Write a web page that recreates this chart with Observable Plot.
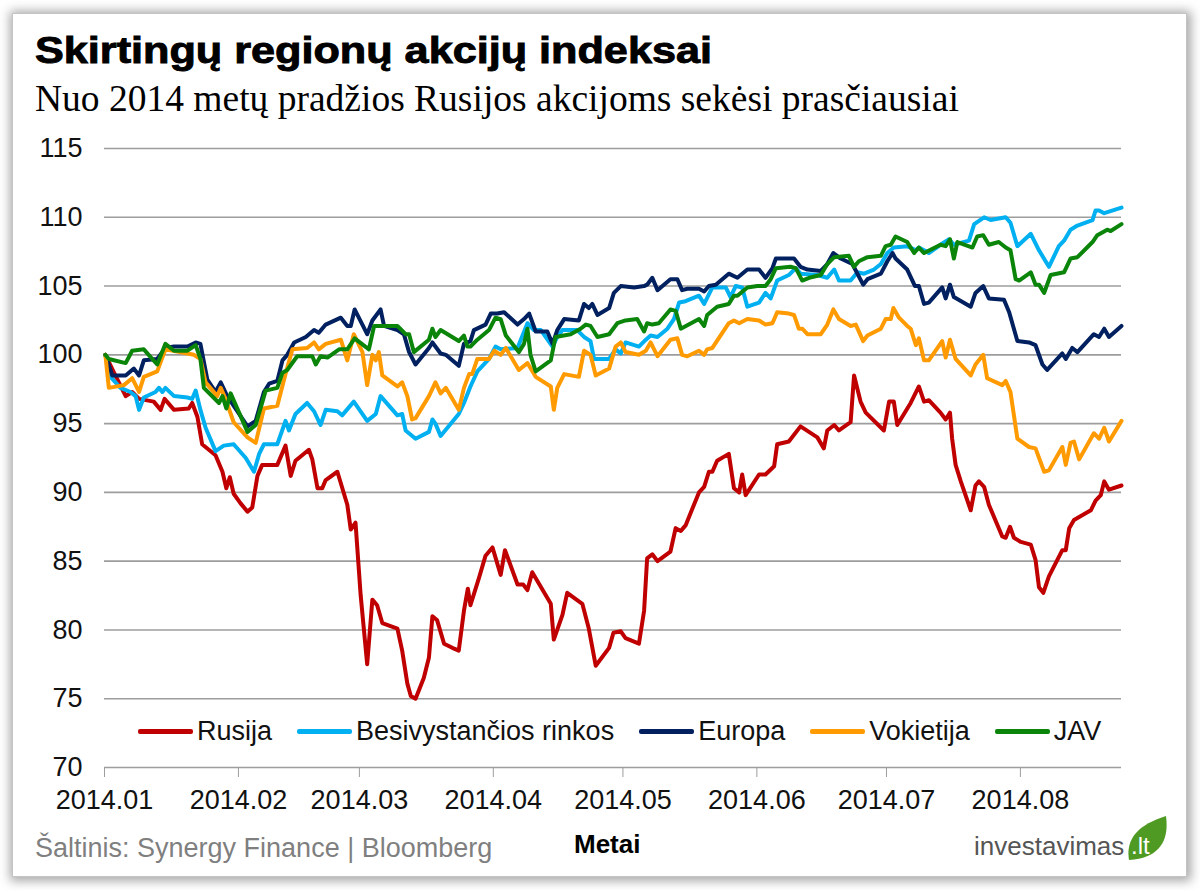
<!DOCTYPE html>
<html><head><meta charset="utf-8">
<script src="https://cdn.jsdelivr.net/npm/d3@7"></script>
<script src="https://cdn.jsdelivr.net/npm/@observablehq/plot@0.6"></script>
<style>
html,body{margin:0;padding:0;background:#fff;}
body{width:1200px;height:890px;position:relative;overflow:hidden;font-family:"Liberation Sans",Arial,sans-serif;}
#frame{position:absolute;left:12px;top:13px;width:1173px;height:862px;border:1px solid #c4c4c4;box-shadow:1px 1px 10px 3px rgba(0,0,0,0.35);background:#fff;}
.abs{position:absolute;white-space:nowrap;line-height:1;}
#title{left:35px;top:33px;font-weight:bold;font-size:36px;color:#000;-webkit-text-stroke:0.9px #000;transform:scaleX(1.2);transform-origin:0 0;}
#subtitle{left:35px;top:80px;font-family:"Liberation Serif","Times New Roman",serif;font-size:37.5px;color:#000;}
#chart{position:absolute;left:0;top:130px;}
#legend{position:absolute;left:138px;top:716px;height:30px;display:flex;align-items:center;font-size:27px;color:#111;}
.li{display:flex;align-items:center;margin-right:25px;}
.sw{width:55px;height:5px;margin-right:4px;border-radius:2px;}
#source{left:35px;top:835px;font-size:27px;color:#7f7f7f;}
#xlabel{left:574px;top:831px;font-size:26px;font-weight:bold;color:#000;}
#logo{left:974px;top:833px;font-size:26px;color:#555;}
#leaf{position:absolute;left:1126px;top:814px;width:42px;height:48px;}
#leaftext{position:absolute;left:1131px;top:834px;font-size:24px;color:#fff;line-height:1;}
</style></head>
<body>
<div id="frame"></div>
<div id="title" class="abs">Skirtingų regionų akcijų indeksai</div>
<div id="subtitle" class="abs">Nuo 2014 metų pradžios Rusijos akcijoms sekėsi prasčiausiai</div>
<div id="chart"></div>
<div id="legend"></div>
<div id="source" class="abs">Šaltinis: Synergy Finance | Bloomberg</div>
<div id="xlabel" class="abs">Metai</div>
<div id="logo" class="abs">investavimas</div>
<svg id="leaf" viewBox="0 0 42 48"><path d="M3,46 C0,28 8,12 40,2 C43,24 36,44 3,46 Z" fill="#4e9a22"/></svg>
<div id="leaftext">.lt</div>
<script>
// day offset from 2014-01-01, index value
const rusija = [[0.2,100],[2.2,98.7],[4.9,97.0],[6.4,97.3],[8.0,96.8],[11.4,96.6],[13.0,96.0],[13.9,96.8],[16.1,96.0],[19.5,96.1],[20.3,96.5],[21.5,95.5],[22.6,93.5],[25.7,92.7],[27.3,91.5],[28.2,90.3],[29.0,91.1],[29.9,89.9],[31.5,89.2],[33.1,88.6],[34.2,88.9],[35.4,91.2],[36.5,92.0],[40.0,92.0],[41.9,93.4],[43.1,91.2],[44.2,92.3],[47.3,93.1],[48.1,92.4],[49.3,90.3],[50.4,90.3],[51.2,90.9],[53.9,91.5],[56.2,89.1],[57.0,87.3],[58.1,87.8],[59.3,82.5],[60.8,77.5],[62.0,82.2],[63.1,81.8],[64.3,80.5],[67.8,80.1],[68.9,78.5],[70.1,76.1],[70.9,75.2],[72.0,75.0],[73.9,76.5],[75.1,78.0],[75.9,81.0],[77.0,80.7],[78.6,79.0],[80.5,78.7],[82.0,78.5],[83.2,81.4],[84.1,83.0],[84.7,81.8],[86.7,83.8],[88.2,85.4],[89.8,86.0],[91.7,84.0],[92.7,85.8],[95.6,83.3],[96.9,83.3],[97.9,82.9],[99.0,84.2],[103.3,81.9],[104.0,79.3],[106.0,81.1],[107.1,82.7],[110.6,81.9],[112.1,80.1],[113.7,77.4],[116.8,78.7],[117.8,79.8],[119.5,79.9],[120.6,79.4],[123.7,79.0],[124.9,81.4],[125.6,85.2],[126.8,85.5],[128.0,85.0],[131.0,85.7],[132.2,87.4],[133.4,87.2],[134.5,87.6],[137.6,90.0],[138.8,90.4],[139.9,91.5],[140.7,91.5],[141.8,92.3],[144.5,92.8],[145.7,90.3],[146.9,90.0],[147.6,91.3],[148.4,89.8],[151.5,91.3],[153.0,91.3],[155.0,91.9],[155.7,93.5],[158.4,93.7],[161.1,94.8],[165.0,94.0],[166.5,93.2],[167.3,94.5],[168.9,94.9],[170.0,94.5],[172.7,95.1],[173.5,98.5],[175.0,96.6],[176.2,95.8],[180.4,94.5],[181.6,96.6],[182.7,96.6],[183.5,94.9],[186.6,96.5],[188.5,97.7],[189.7,96.6],[190.8,96.7],[193.5,95.8],[194.7,95.3],[195.7,95.8],[196.2,93.9],[197.0,92.0],[198.2,90.8],[200.5,88.7],[201.6,90.5],[202.4,90.8],[203.6,90.4],[204.7,89.1],[207.8,86.8],[208.6,86.7],[209.6,87.5],[210.5,86.7],[212.1,86.4],[214.4,86.2],[215.5,85.1],[216.3,83.1],[217.3,82.7],[218.6,83.9],[221.7,85.8],[222.5,85.8],[223.3,87.4],[224.4,88.0],[228.3,88.7],[229.4,89.4],[230.6,89.8],[231.4,90.8],[232.5,90.2],[235.4,90.5]];
const besivystancios = [[0.2,100],[1.4,98.4],[3.7,97.6],[6.0,97.3],[7.2,97.0],[8.0,96.0],[9.1,96.9],[11.8,97.3],[12.6,97.6],[13.4,97.3],[14.1,97.6],[16.1,97.0],[19.2,96.9],[20.3,96.8],[21.1,97.4],[22.2,96.0],[23.4,94.7],[25.7,93.0],[27.6,93.4],[29.9,93.5],[32.7,92.5],[34.6,91.5],[35.8,92.8],[36.9,93.5],[40.0,93.5],[41.9,95.2],[42.7,94.5],[44.2,95.7],[46.9,96.5],[48.5,95.9],[50.0,94.9],[51.2,96.0],[53.9,95.9],[55.0,95.6],[57.7,96.6],[60.8,95.2],[62.8,95.7],[63.9,97.0],[67.8,95.6],[68.9,95.7],[69.7,94.5],[72.0,93.9],[75.1,94.4],[75.9,95.3],[76.6,95.0],[77.8,94.1],[82.0,95.7],[83.2,96.5],[84.7,97.7],[86.3,98.8],[89.0,99.7],[90.5,100.6],[91.7,100.4],[95.6,100.5],[97.9,102.3],[99.4,101.8],[101.0,101.8],[103.7,100.6],[104.8,101.3],[106.0,101.8],[109.4,101.8],[111.0,101.3],[112.5,101.0],[113.3,99.7],[116.8,99.7],[118.3,100.4],[119.5,100.1],[120.6,100.9],[123.7,100.6],[125.3,101.1],[126.4,101.4],[128.0,101.3],[130.3,101.9],[131.8,102.6],[133.0,103.8],[134.5,103.9],[137.6,104.3],[138.8,103.7],[140.7,104.9],[143.8,104.9],[144.9,104.2],[146.1,105.0],[147.6,104.9],[148.8,103.5],[151.5,103.8],[153.0,104.5],[154.2,104.1],[155.7,105.4],[158.4,105.8],[160.0,106.3],[161.1,105.9],[165.0,105.8],[167.3,105.6],[168.9,106.2],[170.0,105.4],[172.7,105.4],[174.3,106.0],[175.8,105.9],[178.1,106.2],[179.7,106.6],[181.2,107.4],[182.7,107.8],[185.8,107.9],[187.8,107.6],[188.5,107.8],[189.7,107.6],[190.8,107.4],[193.5,108.0],[195.5,108.4],[196.6,108.0],[200.1,108.3],[201.3,109.5],[203.6,110.0],[205.1,109.8],[208.6,110.0],[209.7,109.6],[211.3,107.9],[214.4,108.8],[216.3,107.6],[218.6,106.4],[220.9,107.9],[222.1,108.3],[223.6,109.1],[225.2,109.4],[228.7,109.8],[229.4,110.5],[230.2,110.5],[231.4,110.3],[235.4,110.7]];
const europa = [[0.2,100],[1.8,98.5],[4.9,98.5],[6.8,99.0],[8.0,98.5],[9.1,99.6],[12.2,99.7],[14.1,100.5],[16.1,100.6],[19.2,100.6],[21.1,100.9],[22.2,100.8],[23.8,98.2],[25.7,97.3],[26.9,98.0],[28.4,97.0],[33.1,94.8],[35.0,95.2],[36.9,97.3],[38.1,97.9],[40.0,98.1],[41.2,99.6],[42.3,100.0],[43.9,100.9],[46.6,101.3],[48.5,101.8],[49.6,101.6],[51.2,102.2],[54.7,102.7],[56.2,102.1],[57.0,102.1],[57.9,103.3],[60.8,101.5],[62.0,102.5],[63.9,103.3],[64.7,102.1],[67.8,101.8],[69.3,101.5],[70.5,100.2],[72.0,99.3],[75.1,100.5],[75.9,100.9],[77.8,100.1],[79.0,100.0],[82.0,99.2],[83.2,100.8],[84.7,101.0],[85.5,101.8],[88.2,102.2],[89.4,103.0],[90.9,103.0],[92.5,103.1],[95.6,102.2],[97.1,102.6],[98.3,103.0],[99.8,101.7],[102.5,101.7],[103.7,100.8],[104.8,101.8],[106.4,102.6],[109.8,102.5],[111.0,103.7],[112.1,103.4],[112.9,103.7],[114.1,102.9],[116.8,103.4],[117.9,104.5],[119.5,105.0],[122.6,104.9],[124.9,105.0],[125.6,105.1],[126.8,105.6],[128.0,104.7],[131.0,105.5],[132.6,105.5],[133.7,104.7],[134.9,104.8],[137.6,104.8],[138.8,104.6],[139.9,105.0],[141.5,105.1],[144.5,105.9],[146.5,105.6],[148.8,106.2],[151.5,106.2],[153.0,105.6],[154.6,106.3],[155.4,107.0],[159.6,107.0],[161.1,106.4],[162.7,106.2],[165.8,106.1],[167.3,106.6],[168.7,107.4],[170.4,107.0],[173.1,106.6],[175.6,105.1],[176.6,105.5],[179.7,105.9],[181.2,106.8],[182.4,107.4],[183.1,107.0],[185.8,106.2],[187.6,105.0],[188.5,105.0],[189.7,103.7],[190.8,103.8],[193.9,104.9],[194.7,104.1],[195.7,105.1],[196.6,104.2],[200.5,103.5],[201.6,104.5],[203.4,105.0],[204.7,104.1],[208.2,104.0],[209.4,103.1],[211.3,101.0],[214.0,100.9],[215.5,100.7],[217.1,99.3],[218.2,98.9],[221.7,100.1],[222.5,99.7],[224.0,100.5],[225.2,100.2],[229.0,101.5],[230.2,101.3],[231.4,101.9],[232.5,101.3],[235.4,102.1]];
const vokietija = [[0.2,100],[1.0,97.6],[4.5,97.8],[6.4,98.3],[8.0,97.3],[9.1,98.4],[12.2,98.8],[14.1,100.4],[20.7,100.0],[22.2,99.7],[23.4,98.0],[26.1,97.0],[26.9,97.6],[28.0,96.8],[29.9,95.1],[33.1,94.0],[35.0,93.6],[36.9,96.1],[40.0,96.3],[41.9,98.6],[43.5,100.4],[46.9,100.5],[48.5,100.9],[49.6,100.4],[51.2,100.8],[54.7,101.1],[56.2,99.6],[57.7,101.5],[59.7,100.2],[60.8,97.8],[62.0,100.0],[62.8,99.6],[63.5,100.2],[64.3,98.5],[67.8,97.7],[68.9,98.0],[70.1,97.0],[71.2,95.3],[72.0,95.4],[75.1,97.0],[76.6,98.0],[77.8,97.2],[79.0,97.6],[82.0,96.0],[83.2,97.6],[84.4,98.6],[85.1,98.6],[86.3,99.7],[89.0,99.7],[90.2,100.3],[91.7,100.0],[92.9,100.5],[95.9,98.9],[97.9,99.4],[99.8,98.4],[103.3,97.7],[104.0,96.0],[104.8,97.6],[106.4,98.6],[109.8,98.4],[111.0,100.3],[112.5,100.0],[113.7,98.5],[116.8,99.0],[118.3,100.6],[119.5,100.9],[120.6,100.2],[123.7,100.0],[125.3,100.3],[126.4,100.9],[128.0,99.9],[131.0,101.1],[132.6,101.2],[133.7,100.0],[134.9,99.9],[137.6,100.3],[138.8,100.0],[139.5,100.4],[140.7,100.5],[144.5,102.3],[145.7,102.5],[146.9,102.3],[148.8,102.6],[151.5,102.5],[153.0,102.2],[154.6,102.3],[155.7,103.1],[158.4,103.0],[159.6,102.9],[160.7,101.9],[161.5,101.9],[162.7,101.5],[165.8,101.5],[167.3,102.2],[168.7,103.3],[170.0,102.6],[172.7,102.1],[173.9,102.2],[175.6,101.0],[176.6,101.4],[179.7,101.9],[180.8,102.6],[182.0,102.6],[182.6,103.4],[183.9,102.7],[185.8,102.1],[186.6,101.9],[187.8,100.7],[188.5,101.2],[189.7,99.6],[190.8,99.6],[193.9,101.0],[194.7,99.8],[195.7,101.1],[197.0,99.7],[200.5,98.5],[201.6,99.3],[203.4,100.0],[204.3,98.3],[207.8,97.8],[208.6,98.1],[209.7,97.3],[211.3,93.9],[214.0,93.3],[215.5,93.2],[217.5,91.5],[218.6,91.6],[221.7,93.3],[222.5,92.0],[223.6,93.6],[224.4,93.7],[225.6,92.4],[229.0,94.3],[230.2,93.9],[231.4,94.7],[232.5,93.7],[235.4,95.2]];
const jav = [[0.2,100],[1.0,99.7],[4.9,99.4],[6.4,100.3],[9.1,100.4],[12.2,99.3],[14.1,100.8],[16.1,100.3],[19.2,100.3],[21.1,100.7],[22.2,99.7],[23.0,97.6],[26.5,96.5],[27.3,97.0],[28.2,96.1],[29.2,97.2],[33.1,94.4],[35.0,94.9],[37.3,97.4],[40.0,97.6],[41.2,98.7],[42.3,98.9],[44.6,99.9],[48.1,99.9],[48.9,99.3],[50.0,99.9],[51.6,99.8],[54.3,100.4],[56.2,100.4],[57.9,101.2],[61.2,100.4],[62.4,102.1],[64.7,102.1],[67.8,102.1],[69.7,101.5],[70.5,101.5],[71.6,100.2],[75.1,101.1],[75.9,101.9],[76.6,101.3],[77.8,101.8],[82.0,101.0],[83.2,101.4],[84.0,100.6],[84.7,100.6],[86.3,101.1],[89.0,101.8],[90.5,102.7],[91.7,102.6],[92.9,101.4],[95.9,100.2],[97.1,100.8],[97.9,101.9],[98.6,100.0],[99.8,98.8],[103.3,99.6],[104.4,101.3],[107.9,101.5],[110.2,101.9],[111.4,102.2],[112.5,102.1],[114.1,101.3],[116.8,101.5],[118.7,102.3],[120.6,102.5],[123.3,102.6],[124.9,101.7],[125.6,102.3],[126.8,102.2],[128.3,102.3],[131.0,103.3],[132.2,103.2],[133.4,101.9],[137.6,102.6],[138.8,102.1],[139.5,102.9],[141.8,103.5],[144.5,103.7],[145.7,104.3],[146.5,104.3],[148.8,104.9],[151.1,105.0],[153.0,105.0],[154.2,105.5],[155.4,106.3],[158.8,106.4],[160.0,106.3],[161.5,105.4],[163.1,105.6],[165.8,105.8],[167.3,106.6],[168.9,107.1],[172.3,107.2],[173.5,106.4],[174.6,106.8],[176.6,107.1],[179.7,107.2],[180.8,107.9],[182.0,108.0],[183.1,108.6],[185.8,108.2],[187.4,107.4],[188.5,107.8],[189.7,107.4],[193.5,108.0],[194.7,107.9],[195.7,108.4],[196.6,107.0],[197.4,108.2],[200.9,107.8],[202.0,108.6],[203.4,108.7],[204.7,108.0],[207.0,108.2],[208.6,107.8],[209.7,107.6],[210.9,105.5],[211.7,105.4],[214.4,106.0],[215.5,105.1],[216.3,105.1],[217.5,104.5],[219.0,105.8],[222.1,106.0],[223.6,107.0],[225.2,107.1],[228.7,108.2],[229.8,108.7],[232.1,109.1],[232.9,109.0],[235.4,109.5]];

const seriesNames = ["Rusija", "Besivystančios rinkos", "Europa", "Vokietija", "JAV"];
const seriesColors = ["#C00000", "#00B0F0", "#002060", "#FF9A00", "#0A850A"];
const seriesValues = [rusija, besivystancios, europa, vokietija, jav];
const yTicks = [70, 75, 80, 85, 90, 95, 100, 105, 110, 115];
const xTickLabels = ["2014.01", "2014.02", "2014.03", "2014.04", "2014.05", "2014.06", "2014.07", "2014.08"];
const lastDay = 235.4;

const t0 = Date.UTC(2014, 0, 1);
const toDate = d => new Date(t0 + d * 864e5);
const rows = [];
seriesValues.forEach((arr, i) => arr.forEach(([d, v]) => rows.push({series: seriesNames[i], date: toDate(d), value: v})));
const xTicks = xTickLabels.map(s => new Date(Date.UTC(+s.slice(0, 4), +s.slice(5) - 1, 1)));

const chart = Plot.plot({
  width: 1200,
  height: 690,
  marginTop: 18,
  marginBottom: 53,
  marginLeft: 104,
  marginRight: 79,
  style: {fontFamily: '"Liberation Sans", Arial, sans-serif', fontSize: "27px", color: "#111", background: "transparent", overflow: "visible"},
  x: {type: "utc", domain: [toDate(0), toDate(lastDay)]},
  y: {domain: [70, 115]},
  color: {domain: seriesNames, range: seriesColors},
  marks: [
    Plot.ruleY(yTicks, {stroke: "#9d9d9d", strokeWidth: 1.6}),
    Plot.axisY(yTicks, {tickSize: 0, tickPadding: 22, fontSize: 27, label: null}),
    Plot.axisX(xTicks, {tickFormat: d => xTickLabels[d.getUTCMonth()], tickSize: 10, tickPadding: 12, stroke: "#9d9d9d", fontSize: 27, label: null}),
    ...seriesNames.map(name => Plot.line(rows.filter(r => r.series === name), {x: "date", y: "value", stroke: "series", strokeWidth: 4, strokeLinejoin: "round", strokeLinecap: "round"}))
  ]
});
document.getElementById("chart").appendChild(chart);

const legend = document.getElementById("legend");
seriesNames.forEach((name, i) => {
  const item = document.createElement("div");
  item.className = "li";
  const sw = document.createElement("span");
  sw.className = "sw";
  sw.style.background = seriesColors[i];
  const tx = document.createElement("span");
  tx.textContent = name;
  item.appendChild(sw);
  item.appendChild(tx);
  legend.appendChild(item);
});
</script>
</body></html>
